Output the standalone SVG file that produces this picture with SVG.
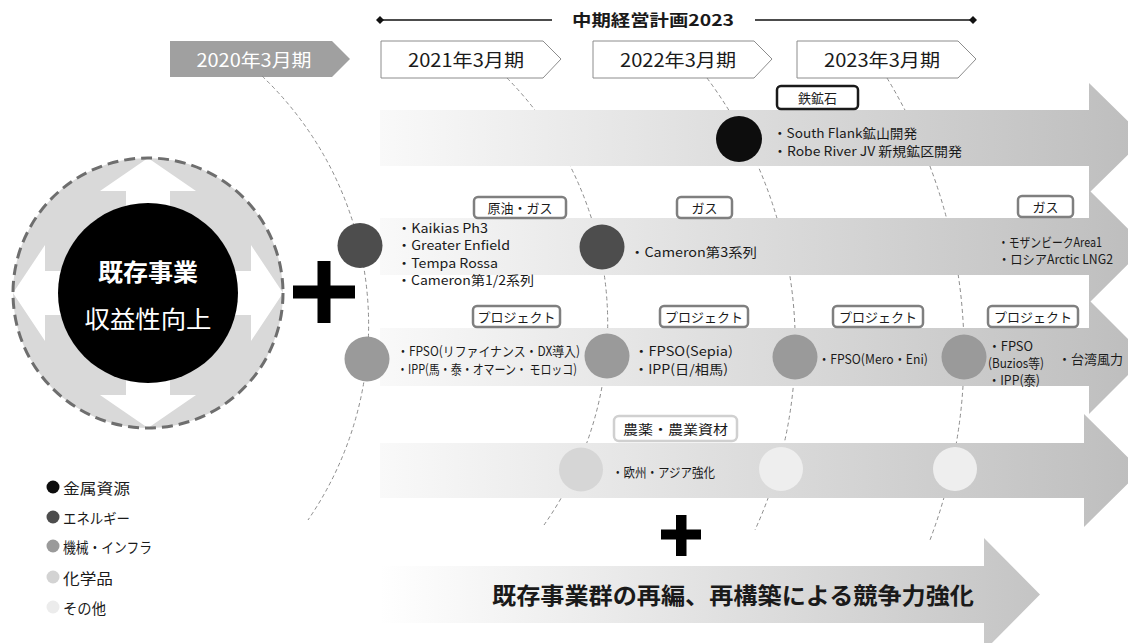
<svg xmlns="http://www.w3.org/2000/svg" width="1128" height="643" viewBox="0 0 1128 643">
<style>
text{font-family:"Noto Sans CJK JP","Noto Sans",sans-serif;fill:#1a1a1a;dominant-baseline:central}
.t13{font-size:13px}
.lbl{font-size:13px;text-anchor:middle}
.yr{font-size:18px;text-anchor:middle}
.box{fill:#fff;stroke:#7f7f7f;stroke-width:2.5}
.arc{fill:none;stroke:#8c8c8c;stroke-width:1;stroke-dasharray:4 3}
.leg{font-size:14.5px}
</style>
<defs>
<linearGradient id="gBand" gradientUnits="userSpaceOnUse" x1="380" y1="0" x2="1145" y2="0">
<stop offset="0" stop-color="#f9f9f9"/>
<stop offset="1" stop-color="#bdbdbd"/>
</linearGradient>
<linearGradient id="gBottom" gradientUnits="userSpaceOnUse" x1="380" y1="0" x2="1040" y2="0">
<stop offset="0" stop-color="#ffffff"/>
<stop offset="1" stop-color="#c4c4c4"/>
</linearGradient>
</defs>
<rect width="1128" height="643" fill="#fff"/>

<!-- header -->
<g id="header">
<line x1="380" y1="20" x2="552" y2="20" stroke="#111" stroke-width="1.3"/>
<line x1="755" y1="20" x2="973" y2="20" stroke="#111" stroke-width="1.3"/>
<path d="M380,16 L384,20 L380,24 L376,20 Z" fill="#111"/>
<path d="M973,16 L977,20 L973,24 L969,20 Z" fill="#111"/>
<text x="653" y="19" font-size="16" font-weight="bold" text-anchor="middle" textLength="162" lengthAdjust="spacingAndGlyphs">中期経営計画2023</text>
</g>

<!-- year boxes -->
<g id="year2020">
<path d="M170,41 H332 L350,59 L332,77 H170 Z" fill="#a0a0a0"/>
<text class="yr" x="254" y="59" style="fill:#fff" textLength="115" lengthAdjust="spacingAndGlyphs">2020年3月期</text>
</g>
<g id="year2021">
<path d="M381,41 H543 L561,59 L543,78 H381 Z" fill="#fff" stroke="#8c8c8c" stroke-width="1"/>
<text class="yr" x="466" y="59" textLength="116" lengthAdjust="spacingAndGlyphs">2021年3月期</text>
</g>
<g id="year2022">
<path d="M593,41 H754 L772,59 L754,78 H593 Z" fill="#fff" stroke="#8c8c8c" stroke-width="1"/>
<text class="yr" x="678" y="59" textLength="116" lengthAdjust="spacingAndGlyphs">2022年3月期</text>
</g>
<g id="year2023">
<path d="M797,41 H958 L976,59 L958,78 H797 Z" fill="#fff" stroke="#8c8c8c" stroke-width="1"/>
<text class="yr" x="882" y="59" textLength="116" lengthAdjust="spacingAndGlyphs">2023年3月期</text>
</g>

<!-- timeline arcs -->
<g id="connectors">
<path class="arc" d="M262,76 A344,344 0 0 1 308,520"/>
<path class="arc" d="M507,78 A350,350 0 0 1 544,525"/>
<path class="arc" d="M707,78 A447,447 0 0 1 755,530"/>
<path class="arc" d="M887,78 A530,530 0 0 1 930,540"/>
</g>

<!-- left core circle -->
<g id="core">
<circle cx="148" cy="293" r="135" fill="#d9d9d9"/>
<path d="M148,158 L196,191 L170,191 L170,271 L251,271 L251,245 L283,293 L251,341 L251,315 L170,315 L170,395 L196,395 L148,428 L100,395 L126,395 L126,315 L45,315 L45,341 L13,293 L45,245 L45,271 L126,271 L126,191 L100,191 Z" fill="#fff"/>
<circle cx="148" cy="293" r="135" fill="none" stroke="#6e6e6e" stroke-width="3" stroke-dasharray="11 6"/>
<circle cx="148" cy="293" r="90" fill="#000"/>
<text x="148" y="270" font-size="24" font-weight="bold" text-anchor="middle" style="fill:#fff" textLength="100" lengthAdjust="spacingAndGlyphs">既存事業</text>
<text x="148" y="317" font-size="24" text-anchor="middle" style="fill:#fff" textLength="127" lengthAdjust="spacingAndGlyphs">収益性向上</text>
</g>

<g id="plus1">
<rect x="293" y="285.5" width="62" height="13" fill="#000"/>
<rect x="317.5" y="261" width="13" height="62" fill="#000"/>
</g>

<!-- band 1: metal -->
<g id="band-metal">
<path d="M380,110 H1089 V83 L1145,138 L1089,193 V166 H380 Z" fill="url(#gBand)"/>
<circle cx="739" cy="139" r="23" fill="#0d0d0d"/>
<rect x="777" y="86" width="81" height="23" rx="4" fill="#fff" stroke="#1a1a1a" stroke-width="2.5"/>
<text class="lbl" x="817.5" y="97.5">鉄鉱石</text>
<text class="t13" x="773" y="132" textLength="144" lengthAdjust="spacingAndGlyphs">・South Flank鉱山開発</text>
<text class="t13" x="773" y="150" textLength="189" lengthAdjust="spacingAndGlyphs">・Robe River JV 新規鉱区開発</text>
</g>

<!-- band 2: energy -->
<g id="band-energy">
<path d="M380,218 H1089 V190 L1146,246.5 L1089,303 V275 H380 Z" fill="url(#gBand)"/>
<circle cx="360" cy="245.5" r="22.5" fill="#4d4d4d"/>
<circle cx="602" cy="247" r="22.5" fill="#4d4d4d"/>
<rect class="box" x="474" y="197" width="92" height="21" rx="4"/>
<text class="lbl" x="520" y="207.5">原油・ガス</text>
<rect class="box" x="677" y="197" width="55" height="21" rx="4"/>
<text class="lbl" x="704.5" y="207.5">ガス</text>
<rect class="box" x="1018" y="196" width="55" height="21" rx="4"/>
<text class="lbl" x="1045.5" y="206.5">ガス</text>
<text class="t13" x="397" y="227" textLength="91" lengthAdjust="spacingAndGlyphs">・Kaikias Ph3</text>
<text class="t13" x="397" y="244.5" textLength="113" lengthAdjust="spacingAndGlyphs">・Greater Enfield</text>
<text class="t13" x="397" y="262" textLength="101" lengthAdjust="spacingAndGlyphs">・Tempa Rossa</text>
<text class="t13" x="397" y="279.5" textLength="137" lengthAdjust="spacingAndGlyphs">・Cameron第1/2系列</text>
<text class="t13" x="630" y="251" textLength="127" lengthAdjust="spacingAndGlyphs">・Cameron第3系列</text>
<text class="t13" x="998" y="241" textLength="104" lengthAdjust="spacingAndGlyphs">・モザンビークArea1</text>
<text class="t13" x="998" y="258.5" textLength="115" lengthAdjust="spacingAndGlyphs">・ロシアArctic LNG2</text>
</g>

<!-- band 3: machinery -->
<g id="band-machinery">
<path d="M380,328 H1089 V300 L1146,357 L1089,414 V386 H380 Z" fill="url(#gBand)"/>
<circle cx="367" cy="359" r="22.5" fill="#9a9a9a"/>
<circle cx="607" cy="356" r="22.5" fill="#9a9a9a"/>
<circle cx="795" cy="357" r="22.5" fill="#9a9a9a"/>
<circle cx="964" cy="357" r="22.5" fill="#9a9a9a"/>
<rect class="box" x="473" y="306" width="87" height="21" rx="4"/>
<text class="lbl" x="516.5" y="316.5">プロジェクト</text>
<rect class="box" x="660" y="306" width="88" height="21" rx="4"/>
<text class="lbl" x="704" y="316.5">プロジェクト</text>
<rect class="box" x="833" y="306" width="90" height="21" rx="4"/>
<text class="lbl" x="878" y="316.5">プロジェクト</text>
<rect class="box" x="988" y="306" width="90" height="21" rx="4"/>
<text class="lbl" x="1033" y="316.5">プロジェクト</text>
<text class="t13" x="397" y="350" textLength="183" lengthAdjust="spacingAndGlyphs">・FPSO(リファイナンス・DX導入)</text>
<text class="t13" x="397" y="368" textLength="180" lengthAdjust="spacingAndGlyphs">・IPP(馬・泰・オマーン・ モロッコ)</text>
<text class="t13" x="634" y="350" textLength="99" lengthAdjust="spacingAndGlyphs">・FPSO(Sepia)</text>
<text class="t13" x="634" y="368" textLength="94" lengthAdjust="spacingAndGlyphs">・IPP(日/相馬)</text>
<text class="t13" x="818" y="358" textLength="110" lengthAdjust="spacingAndGlyphs">・FPSO(Mero・Eni)</text>
<text class="t13" x="988" y="345" textLength="45" lengthAdjust="spacingAndGlyphs">・FPSO</text>
<text class="t13" x="988" y="362" textLength="56" lengthAdjust="spacingAndGlyphs">(Buzios等)</text>
<text class="t13" x="988" y="379" textLength="52" lengthAdjust="spacingAndGlyphs">・IPP(泰)</text>
<text class="t13" x="1058" y="358">・台湾風力</text>
</g>

<!-- band 4: chemicals -->
<g id="band-chemicals">
<path d="M380,443 H1084 V414 L1141,470.5 L1084,527 V498 H380 Z" fill="url(#gBand)"/>
<circle cx="581" cy="469.5" r="22" fill="#d6d6d6"/>
<circle cx="781" cy="469" r="22" fill="#eeeeee"/>
<circle cx="955" cy="469" r="22" fill="#eeeeee"/>
<rect x="614" y="416" width="123" height="25" rx="5" fill="#fff" stroke="#d0d0d0" stroke-width="2.5"/>
<text class="lbl" x="675.5" y="428.5" textLength="105" lengthAdjust="spacingAndGlyphs">農薬・農業資材</text>
<text class="t13" x="612" y="471" textLength="103" lengthAdjust="spacingAndGlyphs">・欧州・アジア強化</text>
</g>

<g id="plus2">
<rect x="661" y="529.5" width="40" height="10" fill="#000"/>
<rect x="676" y="515" width="10.5" height="41" fill="#000"/>
</g>

<!-- bottom arrow -->
<g id="band-bottom">
<path d="M380,566 H984 V538 L1040,594.5 L984,651 V623 H380 Z" fill="url(#gBottom)"/>
<text x="733" y="594" font-size="23" font-weight="bold" text-anchor="middle" textLength="482" lengthAdjust="spacingAndGlyphs">既存事業群の再編、再構築による競争力強化</text>
</g>

<!-- legend -->
<g id="legend">
<circle cx="53" cy="487" r="6.5" fill="#0d0d0d"/>
<text class="leg" x="63" y="487" textLength="67" lengthAdjust="spacingAndGlyphs">金属資源</text>
<circle cx="53" cy="517" r="6.5" fill="#4d4d4d"/>
<text class="leg" x="63" y="517" textLength="67" lengthAdjust="spacingAndGlyphs">エネルギー</text>
<circle cx="53" cy="546" r="6.5" fill="#9a9a9a"/>
<text class="leg" x="63" y="546" textLength="89" lengthAdjust="spacingAndGlyphs">機械・インフラ</text>
<circle cx="53" cy="577" r="6.5" fill="#d3d3d3"/>
<text class="leg" x="63" y="577" textLength="50" lengthAdjust="spacingAndGlyphs">化学品</text>
<circle cx="53" cy="607" r="6.5" fill="#ececec"/>
<text class="leg" x="63" y="607" textLength="43" lengthAdjust="spacingAndGlyphs">その他</text>
</g>
</svg>
